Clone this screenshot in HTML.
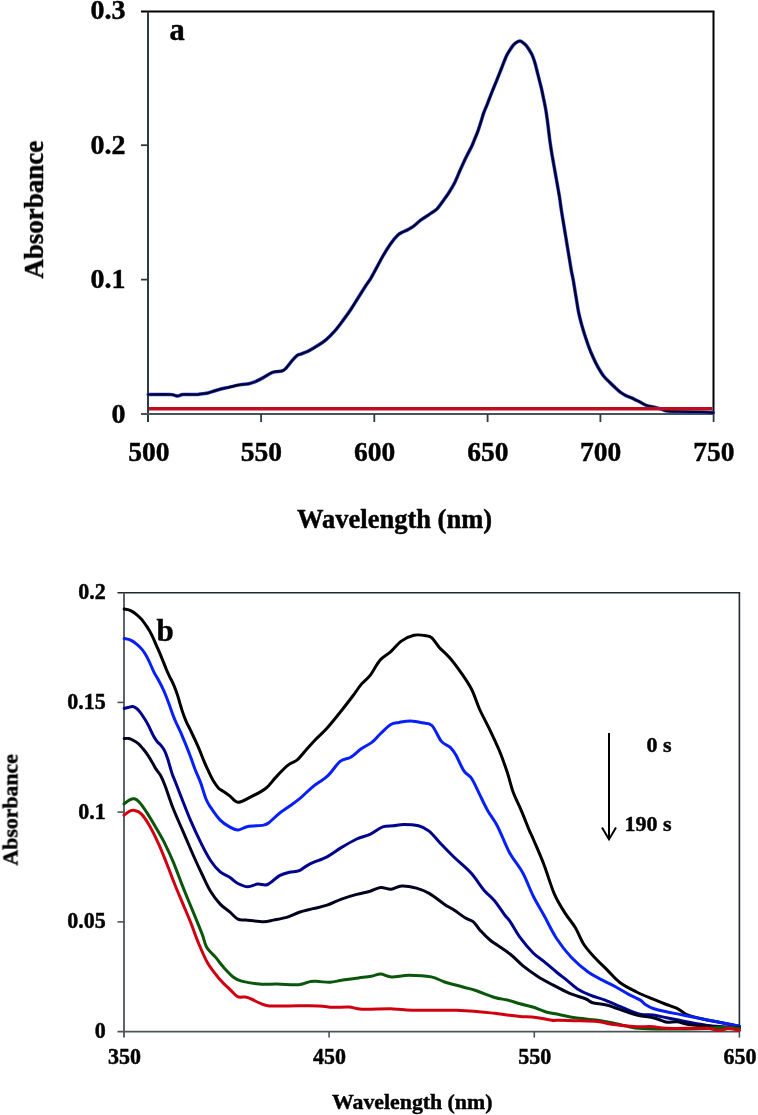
<!DOCTYPE html>
<html><head><meta charset="utf-8"><style>
html,body{margin:0;padding:0;background:#fff;}
svg{display:block;} g.t{opacity:0.995}
</style></head><body>
<svg width="758" height="1115" viewBox="0 0 758 1115">
<rect width="758" height="1115" fill="#fff"/>
<line x1="141" y1="11.5" x2="714.5" y2="11.5" stroke="#000" stroke-width="2"/>
<line x1="713.5" y1="11.5" x2="713.5" y2="414" stroke="#000" stroke-width="2"/>
<line x1="148" y1="11.5" x2="148" y2="422" stroke="#2a3b45" stroke-width="2"/>
<line x1="141" y1="414" x2="713.5" y2="414" stroke="#44545c" stroke-width="1.8"/>
<line x1="141" y1="145.2" x2="148" y2="145.2" stroke="#2a3b45" stroke-width="1.8"/>
<line x1="141" y1="279.6" x2="148" y2="279.6" stroke="#2a3b45" stroke-width="1.8"/>
<line x1="261.1" y1="414" x2="261.1" y2="422" stroke="#2a3b45" stroke-width="1.8"/>
<line x1="374.3" y1="414" x2="374.3" y2="422" stroke="#2a3b45" stroke-width="1.8"/>
<line x1="487.6" y1="414" x2="487.6" y2="422" stroke="#2a3b45" stroke-width="1.8"/>
<line x1="600.4" y1="414" x2="600.4" y2="422" stroke="#2a3b45" stroke-width="1.8"/>
<line x1="713.6" y1="414" x2="713.6" y2="422" stroke="#2a3b45" stroke-width="1.8"/>
<path d="M148.2,394.5 C151.9,394.5 165.4,394.2 170.3,394.5 C175.2,394.8 175.6,396.0 177.7,396.0 C179.8,396.0 180.0,394.8 183.0,394.5 C186.0,394.2 192.9,394.6 195.7,394.5 C198.5,394.4 198.0,394.4 200.0,394.1 C202.0,393.9 205.3,393.6 207.9,393.0 C210.5,392.4 212.7,391.4 215.8,390.5 C218.9,389.6 222.4,388.7 226.4,387.8 C230.4,386.9 235.9,385.6 239.6,384.9 C243.3,384.2 246.2,384.4 248.8,383.8 C251.4,383.2 253.0,382.6 255.4,381.6 C257.8,380.6 260.4,379.2 263.3,377.6 C266.2,376.1 269.5,373.4 272.6,372.3 C275.7,371.2 279.6,371.6 281.8,371.0 C284.0,370.4 284.1,370.2 285.8,368.4 C287.6,366.6 290.3,362.6 292.3,360.4 C294.3,358.2 296.2,356.2 297.6,355.2 C299.0,354.1 299.0,354.7 300.7,354.1 C302.4,353.5 305.2,352.6 307.8,351.4 C310.4,350.1 313.1,348.5 316.1,346.6 C319.1,344.7 322.4,342.8 325.6,340.1 C328.8,337.4 332.1,334.0 335.1,330.6 C338.1,327.2 340.8,323.4 343.4,319.9 C346.0,316.4 348.2,313.4 350.6,309.8 C353.0,306.2 355.3,302.3 357.7,298.5 C360.1,294.7 362.6,290.6 364.8,287.2 C367.0,283.8 369.0,281.3 370.8,278.3 C372.6,275.3 373.7,273.0 375.8,269.2 C377.9,265.4 380.8,259.7 383.2,255.5 C385.6,251.3 388.1,247.3 390.5,243.9 C392.9,240.5 395.6,237.2 397.7,235.2 C399.8,233.2 401.1,232.9 402.8,232.0 C404.5,231.1 406.2,230.6 408.0,229.6 C409.8,228.6 411.5,227.8 413.7,226.2 C415.9,224.6 418.3,221.9 421.0,219.9 C423.7,217.9 427.1,215.9 429.7,214.1 C432.3,212.3 434.6,211.2 436.9,209.0 C439.1,206.8 441.5,203.1 443.2,200.8 C444.9,198.5 445.9,197.1 447.3,195.1 C448.7,193.1 450.0,191.0 451.3,188.7 C452.6,186.4 453.7,184.7 455.3,181.4 C456.9,178.1 459.2,172.3 460.7,168.9 C462.2,165.5 463.0,163.8 464.3,161.0 C465.6,158.2 467.3,155.0 468.6,152.4 C469.9,149.8 471.1,147.6 472.2,145.2 C473.3,142.8 474.1,140.4 475.1,138.0 C476.1,135.6 477.1,133.5 478.0,130.9 C478.9,128.3 479.9,125.3 480.8,122.3 C481.8,119.3 482.7,115.7 483.7,112.9 C484.7,110.2 485.5,108.5 486.6,105.8 C487.7,103.1 489.1,99.4 490.2,96.5 C491.3,93.6 492.3,91.2 493.4,88.5 C494.5,85.8 495.6,83.1 496.7,80.4 C497.8,77.7 498.8,75.0 499.9,72.3 C501.0,69.6 502.0,66.9 503.1,64.2 C504.2,61.5 505.2,58.5 506.3,56.2 C507.4,53.9 508.4,52.4 509.6,50.5 C510.8,48.6 512.3,46.2 513.6,44.8 C514.9,43.3 516.3,42.4 517.5,41.8 C518.7,41.2 519.2,40.6 520.6,41.1 C522.0,41.6 524.2,43.5 525.7,45.0 C527.2,46.5 528.2,48.3 529.3,50.0 C530.4,51.7 531.4,53.3 532.2,55.1 C533.0,56.9 533.6,58.8 534.3,60.8 C534.9,62.8 535.5,64.9 536.1,67.2 C536.7,69.5 537.3,72.0 537.9,74.4 C538.5,76.8 539.1,79.2 539.7,81.6 C540.3,84.0 540.9,86.1 541.5,88.7 C542.1,91.3 542.7,94.4 543.3,97.3 C543.9,100.2 544.6,103.4 545.1,106.0 C545.6,108.6 545.8,109.7 546.3,113.0 C546.8,116.3 547.5,121.2 548.1,126.1 C548.7,131.0 549.4,137.5 550.1,142.3 C550.8,147.2 551.4,151.2 552.1,155.2 C552.8,159.2 553.4,162.8 554.1,166.5 C554.8,170.2 555.4,173.9 556.1,177.7 C556.8,181.4 557.5,185.8 558.1,189.0 C558.7,192.2 558.9,193.3 559.5,197.0 C560.1,200.7 560.8,206.7 561.5,211.1 C562.2,215.5 562.8,219.2 563.5,223.2 C564.2,227.2 564.8,231.3 565.5,235.3 C566.2,239.3 566.8,243.4 567.5,247.4 C568.2,251.4 568.8,255.5 569.5,259.5 C570.2,263.5 570.8,267.9 571.5,271.6 C572.2,275.3 572.8,277.4 573.5,281.5 C574.2,285.6 575.0,291.1 575.9,296.2 C576.8,301.3 577.6,307.5 578.6,312.3 C579.6,317.1 580.7,321.2 581.8,325.2 C582.9,329.1 583.9,332.4 585.1,336.0 C586.3,339.6 587.4,343.2 588.8,346.8 C590.1,350.4 591.7,354.1 593.2,357.5 C594.7,360.9 596.3,364.1 598.0,367.2 C599.7,370.2 601.5,373.3 603.4,375.8 C605.3,378.3 607.6,380.3 609.6,382.3 C611.6,384.3 613.5,386.0 615.3,387.7 C617.1,389.4 618.9,391.1 620.6,392.4 C622.4,393.7 624.0,394.7 625.8,395.6 C627.5,396.5 629.3,396.9 631.1,397.7 C632.9,398.5 634.6,399.4 636.4,400.3 C638.2,401.2 640.0,402.1 641.7,403.0 C643.5,403.9 644.8,404.9 646.9,405.6 C649.0,406.3 652.0,406.7 654.3,407.2 C656.6,407.7 658.8,408.2 660.7,408.8 C662.6,409.4 663.8,410.5 665.9,410.9 C668.0,411.3 670.3,411.3 673.3,411.4 C676.3,411.5 681.1,411.6 683.9,411.7 C686.7,411.8 686.1,411.8 690.0,411.9 C693.9,412.0 703.1,412.1 707.0,412.2 C710.9,412.3 712.2,412.6 713.3,412.7" fill="none" stroke="#2038f0" stroke-width="3.5" stroke-linejoin="round" stroke-linecap="round"/>
<path d="M148.2,394.5 C151.9,394.5 165.4,394.2 170.3,394.5 C175.2,394.8 175.6,396.0 177.7,396.0 C179.8,396.0 180.0,394.8 183.0,394.5 C186.0,394.2 192.9,394.6 195.7,394.5 C198.5,394.4 198.0,394.4 200.0,394.1 C202.0,393.9 205.3,393.6 207.9,393.0 C210.5,392.4 212.7,391.4 215.8,390.5 C218.9,389.6 222.4,388.7 226.4,387.8 C230.4,386.9 235.9,385.6 239.6,384.9 C243.3,384.2 246.2,384.4 248.8,383.8 C251.4,383.2 253.0,382.6 255.4,381.6 C257.8,380.6 260.4,379.2 263.3,377.6 C266.2,376.1 269.5,373.4 272.6,372.3 C275.7,371.2 279.6,371.6 281.8,371.0 C284.0,370.4 284.1,370.2 285.8,368.4 C287.6,366.6 290.3,362.6 292.3,360.4 C294.3,358.2 296.2,356.2 297.6,355.2 C299.0,354.1 299.0,354.7 300.7,354.1 C302.4,353.5 305.2,352.6 307.8,351.4 C310.4,350.1 313.1,348.5 316.1,346.6 C319.1,344.7 322.4,342.8 325.6,340.1 C328.8,337.4 332.1,334.0 335.1,330.6 C338.1,327.2 340.8,323.4 343.4,319.9 C346.0,316.4 348.2,313.4 350.6,309.8 C353.0,306.2 355.3,302.3 357.7,298.5 C360.1,294.7 362.6,290.6 364.8,287.2 C367.0,283.8 369.0,281.3 370.8,278.3 C372.6,275.3 373.7,273.0 375.8,269.2 C377.9,265.4 380.8,259.7 383.2,255.5 C385.6,251.3 388.1,247.3 390.5,243.9 C392.9,240.5 395.6,237.2 397.7,235.2 C399.8,233.2 401.1,232.9 402.8,232.0 C404.5,231.1 406.2,230.6 408.0,229.6 C409.8,228.6 411.5,227.8 413.7,226.2 C415.9,224.6 418.3,221.9 421.0,219.9 C423.7,217.9 427.1,215.9 429.7,214.1 C432.3,212.3 434.6,211.2 436.9,209.0 C439.1,206.8 441.5,203.1 443.2,200.8 C444.9,198.5 445.9,197.1 447.3,195.1 C448.7,193.1 450.0,191.0 451.3,188.7 C452.6,186.4 453.7,184.7 455.3,181.4 C456.9,178.1 459.2,172.3 460.7,168.9 C462.2,165.5 463.0,163.8 464.3,161.0 C465.6,158.2 467.3,155.0 468.6,152.4 C469.9,149.8 471.1,147.6 472.2,145.2 C473.3,142.8 474.1,140.4 475.1,138.0 C476.1,135.6 477.1,133.5 478.0,130.9 C478.9,128.3 479.9,125.3 480.8,122.3 C481.8,119.3 482.7,115.7 483.7,112.9 C484.7,110.2 485.5,108.5 486.6,105.8 C487.7,103.1 489.1,99.4 490.2,96.5 C491.3,93.6 492.3,91.2 493.4,88.5 C494.5,85.8 495.6,83.1 496.7,80.4 C497.8,77.7 498.8,75.0 499.9,72.3 C501.0,69.6 502.0,66.9 503.1,64.2 C504.2,61.5 505.2,58.5 506.3,56.2 C507.4,53.9 508.4,52.4 509.6,50.5 C510.8,48.6 512.3,46.2 513.6,44.8 C514.9,43.3 516.3,42.4 517.5,41.8 C518.7,41.2 519.2,40.6 520.6,41.1 C522.0,41.6 524.2,43.5 525.7,45.0 C527.2,46.5 528.2,48.3 529.3,50.0 C530.4,51.7 531.4,53.3 532.2,55.1 C533.0,56.9 533.6,58.8 534.3,60.8 C534.9,62.8 535.5,64.9 536.1,67.2 C536.7,69.5 537.3,72.0 537.9,74.4 C538.5,76.8 539.1,79.2 539.7,81.6 C540.3,84.0 540.9,86.1 541.5,88.7 C542.1,91.3 542.7,94.4 543.3,97.3 C543.9,100.2 544.6,103.4 545.1,106.0 C545.6,108.6 545.8,109.7 546.3,113.0 C546.8,116.3 547.5,121.2 548.1,126.1 C548.7,131.0 549.4,137.5 550.1,142.3 C550.8,147.2 551.4,151.2 552.1,155.2 C552.8,159.2 553.4,162.8 554.1,166.5 C554.8,170.2 555.4,173.9 556.1,177.7 C556.8,181.4 557.5,185.8 558.1,189.0 C558.7,192.2 558.9,193.3 559.5,197.0 C560.1,200.7 560.8,206.7 561.5,211.1 C562.2,215.5 562.8,219.2 563.5,223.2 C564.2,227.2 564.8,231.3 565.5,235.3 C566.2,239.3 566.8,243.4 567.5,247.4 C568.2,251.4 568.8,255.5 569.5,259.5 C570.2,263.5 570.8,267.9 571.5,271.6 C572.2,275.3 572.8,277.4 573.5,281.5 C574.2,285.6 575.0,291.1 575.9,296.2 C576.8,301.3 577.6,307.5 578.6,312.3 C579.6,317.1 580.7,321.2 581.8,325.2 C582.9,329.1 583.9,332.4 585.1,336.0 C586.3,339.6 587.4,343.2 588.8,346.8 C590.1,350.4 591.7,354.1 593.2,357.5 C594.7,360.9 596.3,364.1 598.0,367.2 C599.7,370.2 601.5,373.3 603.4,375.8 C605.3,378.3 607.6,380.3 609.6,382.3 C611.6,384.3 613.5,386.0 615.3,387.7 C617.1,389.4 618.9,391.1 620.6,392.4 C622.4,393.7 624.0,394.7 625.8,395.6 C627.5,396.5 629.3,396.9 631.1,397.7 C632.9,398.5 634.6,399.4 636.4,400.3 C638.2,401.2 640.0,402.1 641.7,403.0 C643.5,403.9 644.8,404.9 646.9,405.6 C649.0,406.3 652.0,406.7 654.3,407.2 C656.6,407.7 658.8,408.2 660.7,408.8 C662.6,409.4 663.8,410.5 665.9,410.9 C668.0,411.3 670.3,411.3 673.3,411.4 C676.3,411.5 681.1,411.6 683.9,411.7 C686.7,411.8 686.1,411.8 690.0,411.9 C693.9,412.0 703.1,412.1 707.0,412.2 C710.9,412.3 712.2,412.6 713.3,412.7" fill="none" stroke="#000010" stroke-width="2.1" stroke-linejoin="round" stroke-linecap="round"/>
<line x1="149" y1="408.8" x2="712.5" y2="408.8" stroke="#c00c20" stroke-width="3.4"/>
<g class="t" style="font-family:'Liberation Serif',serif;font-weight:bold" fill="#000" stroke="#000" stroke-width="0.45">
<text x="125.5" y="19.4" font-size="28.0" text-anchor="end">0.3</text>
<text x="125.5" y="154.4" font-size="28.0" text-anchor="end">0.2</text>
<text x="125.5" y="287.7" font-size="28.0" text-anchor="end">0.1</text>
<text x="125.5" y="423.2" font-size="28.0" text-anchor="end">0</text>
<text x="148.8" y="461.0" font-size="27.5" text-anchor="middle">500</text>
<text x="261.4" y="461.0" font-size="27.5" text-anchor="middle">550</text>
<text x="374.6" y="461.0" font-size="27.5" text-anchor="middle">600</text>
<text x="487.9" y="461.0" font-size="27.5" text-anchor="middle">650</text>
<text x="600.7" y="461.0" font-size="27.5" text-anchor="middle">700</text>
<text x="713.9" y="461.0" font-size="27.5" text-anchor="middle">750</text>
<text x="394.5" y="527.6" font-size="26.5" text-anchor="middle">Wavelength (nm)</text>
<text transform="translate(43,209.7) rotate(-90)" font-size="27" text-anchor="middle">Absorbance</text>
<text x="169.5" y="40.2" font-size="30.5" text-anchor="start">a</text>
</g>
<line x1="117.5" y1="592.7" x2="740.1999999999999" y2="592.7" stroke="#1e2a2c" stroke-width="1.6"/>
<line x1="739.4" y1="592.7" x2="739.4" y2="1031.6" stroke="#1e2a2c" stroke-width="1.6"/>
<line x1="124" y1="592.7" x2="124" y2="1037.6" stroke="#4a5456" stroke-width="1.8"/>
<line x1="117.5" y1="1031.6" x2="739.4" y2="1031.6" stroke="#4a5456" stroke-width="1.8"/>
<line x1="117.5" y1="702.4" x2="124" y2="702.4" stroke="#4a5456" stroke-width="1.6"/>
<line x1="117.5" y1="812.1" x2="124" y2="812.1" stroke="#4a5456" stroke-width="1.6"/>
<line x1="117.5" y1="921.9" x2="124" y2="921.9" stroke="#4a5456" stroke-width="1.6"/>
<line x1="329.1" y1="1031.6" x2="329.1" y2="1037.6" stroke="#4a5456" stroke-width="1.6"/>
<line x1="534.3" y1="1031.6" x2="534.3" y2="1037.6" stroke="#4a5456" stroke-width="1.6"/>
<line x1="739.4" y1="1031.6" x2="739.4" y2="1037.6" stroke="#4a5456" stroke-width="1.6"/>
<path d="M124.2,609.0 C125.3,609.3 128.5,609.6 130.6,610.6 C132.7,611.6 135.0,613.2 136.9,614.8 C138.8,616.4 140.4,618.0 142.2,620.1 C143.9,622.2 145.8,625.0 147.4,627.4 C149.0,629.8 150.3,632.0 151.7,634.8 C153.1,637.6 154.5,641.1 155.9,644.3 C157.3,647.5 158.3,649.5 160.1,653.8 C161.9,658.1 165.0,666.2 166.6,670.0 C168.2,673.8 168.5,674.4 169.6,676.6 C170.7,678.8 171.9,681.0 172.9,683.2 C173.9,685.4 174.8,687.6 175.6,689.8 C176.4,692.0 177.2,694.2 177.9,696.4 C178.6,698.6 179.2,700.8 179.8,703.0 C180.5,705.2 181.1,707.4 181.8,709.6 C182.5,711.8 183.3,714.0 184.1,716.2 C184.9,718.4 185.8,720.6 186.8,722.8 C187.8,725.0 188.7,726.4 190.1,729.4 C191.5,732.4 193.8,737.2 195.4,740.7 C197.0,744.2 198.2,746.9 199.6,750.2 C201.0,753.5 202.4,757.4 203.8,760.7 C205.2,764.0 206.4,766.9 208.0,770.2 C209.6,773.6 211.5,777.8 213.3,780.8 C215.1,783.8 216.8,786.4 218.6,788.2 C220.4,790.0 222.0,790.5 223.9,791.8 C225.8,793.1 227.7,794.4 230.0,796.1 C232.3,797.9 234.6,802.1 237.9,802.3 C241.2,802.5 245.2,799.7 249.8,797.4 C254.4,795.1 261.3,791.8 265.6,788.5 C269.9,785.2 271.9,781.4 275.5,777.6 C279.1,773.8 283.8,768.7 287.4,765.7 C291.0,762.7 294.3,762.3 297.3,759.8 C300.3,757.3 302.2,754.2 305.2,750.9 C308.2,747.6 311.4,743.9 315.1,740.0 C318.8,736.1 322.9,732.8 327.4,727.7 C331.9,722.7 338.0,715.0 342.2,709.7 C346.4,704.4 349.6,700.2 352.8,696.0 C356.0,691.8 358.4,687.8 361.2,684.4 C364.0,681.0 366.5,679.9 369.7,675.9 C372.9,671.9 376.7,664.1 380.2,660.1 C383.7,656.1 387.3,654.9 390.8,651.7 C394.3,648.5 397.4,643.9 401.3,641.1 C405.2,638.4 409.8,636.1 414.0,635.2 C418.2,634.3 423.6,635.3 426.6,635.8 C429.6,636.2 429.8,636.0 431.9,637.9 C434.0,639.8 436.3,644.0 439.3,647.4 C442.3,650.8 446.1,653.6 449.9,658.0 C453.7,662.4 458.2,668.6 461.9,673.9 C465.5,679.2 468.8,683.8 471.8,689.7 C474.8,695.6 476.7,702.9 479.7,709.5 C482.7,716.1 486.3,722.4 489.6,729.3 C492.9,736.2 496.5,743.8 499.5,751.0 C502.5,758.2 505.1,765.9 507.4,772.8 C509.7,779.7 511.0,786.3 513.3,792.6 C515.6,798.9 518.6,804.1 521.2,810.4 C523.9,816.7 527.2,825.4 529.2,830.2 C531.2,835.0 530.8,833.3 533.2,839.0 C535.6,844.7 540.3,855.1 543.8,864.3 C547.3,873.4 550.8,885.8 554.3,893.9 C557.8,902.0 561.4,907.3 564.9,912.9 C568.4,918.5 572.2,922.4 575.4,927.7 C578.6,933.0 580.7,939.6 583.9,944.5 C587.1,949.4 590.5,953.0 594.4,957.2 C598.3,961.4 602.9,965.7 607.1,969.9 C611.3,974.1 614.9,978.8 619.8,982.5 C624.7,986.2 631.0,989.2 636.6,992.0 C642.2,994.8 648.2,997.1 653.2,999.2 C658.2,1001.3 662.2,1002.9 666.4,1004.5 C670.6,1006.1 675.2,1007.6 678.3,1009.1 C681.4,1010.6 682.5,1012.5 684.9,1013.7 C687.3,1015.0 689.3,1015.6 692.8,1016.6 C696.3,1017.6 701.6,1018.8 706.0,1019.7 C710.4,1020.7 713.6,1021.2 719.2,1022.3 C724.8,1023.4 736.0,1025.5 739.4,1026.2" fill="none" stroke="#000000" stroke-width="3" stroke-linejoin="round" stroke-linecap="round"/>
<path d="M124.2,638.5 C125.3,638.8 128.5,639.1 130.6,640.1 C132.7,641.1 135.0,642.7 136.9,644.3 C138.8,645.9 140.6,647.7 142.2,649.6 C143.8,651.5 145.2,653.8 146.4,655.9 C147.6,658.0 148.4,659.6 149.6,662.3 C150.8,664.9 152.2,668.6 153.8,671.8 C155.4,675.0 157.5,678.3 159.1,681.3 C160.7,684.3 162.1,687.1 163.3,689.7 C164.5,692.3 165.2,694.0 166.4,697.0 C167.6,700.0 169.2,704.6 170.3,707.6 C171.4,710.6 172.1,712.7 172.9,714.9 C173.8,717.1 174.1,718.1 175.4,721.0 C176.7,723.9 178.8,728.2 180.6,732.2 C182.3,736.2 184.1,740.5 185.9,744.9 C187.7,749.3 189.6,754.4 191.2,758.6 C192.8,762.8 193.8,766.2 195.4,770.2 C197.0,774.2 198.9,778.1 200.7,782.9 C202.4,787.6 204.3,794.7 205.9,798.7 C207.5,802.8 208.1,803.6 210.5,807.2 C212.9,810.8 216.9,816.8 220.2,820.1 C223.4,823.4 227.1,825.5 230.0,827.1 C232.9,828.8 234.9,830.1 237.9,830.0 C240.9,829.9 243.5,827.3 247.8,826.5 C252.1,825.7 260.0,825.8 263.6,825.1 C267.2,824.4 267.0,824.1 269.6,822.1 C272.2,820.1 276.2,815.8 279.5,813.2 C282.8,810.6 286.0,808.8 289.4,806.3 C292.8,803.8 296.1,801.6 300.0,798.4 C303.9,795.1 308.1,790.5 312.7,786.8 C317.3,783.1 322.8,780.4 327.4,776.2 C332.0,772.0 336.2,764.6 340.1,761.4 C344.0,758.2 347.2,759.3 350.7,757.2 C354.2,755.1 357.7,751.3 361.2,748.8 C364.7,746.3 368.6,744.9 371.8,742.4 C375.0,739.9 377.0,737.0 380.2,734.0 C383.4,731.0 387.6,726.4 390.8,724.5 C394.0,722.6 395.9,723.0 399.2,722.4 C402.5,721.8 406.9,720.8 410.8,720.9 C414.7,721.0 418.9,722.0 422.4,722.8 C425.9,723.6 428.7,722.4 431.9,725.5 C435.1,728.6 438.4,737.8 441.4,741.4 C444.4,745.0 447.6,744.8 450.0,747.1 C452.4,749.4 453.6,751.0 455.9,755.0 C458.2,759.0 461.2,766.8 463.9,770.8 C466.5,774.8 469.2,774.7 471.8,778.7 C474.4,782.7 477.1,789.3 479.7,794.6 C482.3,799.9 484.6,805.1 487.6,810.4 C490.6,815.7 493.9,819.2 497.5,826.2 C501.1,833.2 505.1,844.4 509.3,852.2 C513.5,860.0 518.7,865.5 522.7,872.8 C526.7,880.1 529.7,889.0 533.2,896.0 C536.7,903.0 539.9,908.0 543.8,915.0 C547.7,922.0 551.8,931.2 556.4,938.2 C561.0,945.2 565.9,951.6 571.2,957.2 C576.5,962.8 582.8,968.1 588.1,972.0 C593.4,975.9 598.3,977.9 602.9,980.4 C607.5,982.9 611.3,984.5 615.5,986.8 C619.7,989.1 624.1,991.9 628.2,994.1 C632.3,996.3 637.1,998.2 640.0,999.9 C642.9,1001.6 643.1,1003.1 645.3,1004.5 C647.5,1005.9 649.7,1007.3 653.2,1008.5 C656.7,1009.7 662.0,1010.8 666.4,1011.8 C670.8,1012.8 675.2,1013.5 679.6,1014.4 C684.0,1015.3 688.4,1016.1 692.8,1017.0 C697.2,1017.9 701.6,1018.8 706.0,1019.7 C710.4,1020.6 713.6,1021.2 719.2,1022.3 C724.8,1023.4 736.0,1025.5 739.4,1026.2" fill="none" stroke="#0820f8" stroke-width="3" stroke-linejoin="round" stroke-linecap="round"/>
<path d="M124.2,708.5 C124.8,708.3 126.6,707.8 128.0,707.5 C129.4,707.2 131.2,706.3 132.7,706.5 C134.1,706.7 135.4,707.5 136.7,708.5 C138.0,709.5 139.3,711.1 140.6,712.8 C141.9,714.5 143.4,716.9 144.6,718.8 C145.8,720.7 146.8,722.3 147.8,724.3 C148.9,726.3 149.9,728.5 150.9,730.6 C151.9,732.7 153.0,735.1 154.1,737.0 C155.2,738.9 156.1,740.2 157.3,741.7 C158.5,743.2 160.0,744.2 161.2,745.7 C162.4,747.2 163.3,748.3 164.4,750.4 C165.5,752.5 166.6,755.6 167.5,758.3 C168.4,760.9 169.1,763.6 169.9,766.3 C170.7,768.9 171.4,771.6 172.3,774.2 C173.2,776.8 173.8,777.9 175.3,781.8 C176.8,785.7 178.8,790.9 181.4,797.5 C184.0,804.1 187.9,814.2 191.1,821.7 C194.3,829.2 197.6,836.2 200.8,842.7 C204.0,849.2 207.3,855.6 210.5,860.5 C213.7,865.4 216.9,869.0 220.2,871.8 C223.4,874.6 227.1,875.5 230.0,877.5 C232.9,879.5 234.9,882.0 237.9,883.5 C240.9,885.0 244.5,886.7 247.8,886.8 C251.1,886.9 254.4,884.5 257.7,884.1 C261.0,883.7 264.0,885.9 267.6,884.5 C271.2,883.1 275.9,877.6 279.5,875.6 C283.1,873.6 286.1,873.0 289.4,872.2 C292.7,871.4 296.0,871.9 299.3,870.6 C302.6,869.3 304.6,866.6 309.2,864.3 C313.8,862.0 321.7,859.5 327.0,856.8 C332.3,854.1 335.9,850.9 340.8,847.9 C345.8,844.9 351.8,841.3 356.7,839.0 C361.6,836.7 365.7,836.3 370.0,834.3 C374.3,832.3 378.8,828.3 382.7,826.9 C386.6,825.5 389.7,826.2 393.2,825.8 C396.7,825.4 399.6,824.4 403.8,824.4 C408.0,824.4 414.3,824.7 418.5,825.8 C422.7,826.9 425.2,827.9 429.1,831.1 C433.0,834.3 437.6,840.4 441.8,844.8 C446.0,849.2 449.5,852.8 454.4,857.5 C459.3,862.2 466.4,867.8 471.3,873.3 C476.2,878.8 480.1,885.6 484.0,890.2 C487.9,894.8 491.0,896.6 494.5,900.8 C498.0,905.0 502.5,912.1 505.1,915.5 C507.7,918.9 507.4,917.5 510.0,921.3 C512.6,925.1 516.7,932.9 520.6,938.2 C524.5,943.5 529.3,949.1 533.2,953.0 C537.1,956.9 539.9,958.2 543.8,961.4 C547.7,964.6 552.5,968.8 556.4,972.0 C560.3,975.2 563.5,977.6 567.0,980.4 C570.5,983.2 573.6,986.4 577.5,988.9 C581.4,991.4 585.6,993.3 590.2,995.2 C594.8,997.1 599.7,998.1 605.1,1000.2 C610.5,1002.3 616.9,1005.4 622.7,1007.7 C628.5,1010.0 634.9,1013.0 640.0,1014.2 C645.1,1015.4 648.8,1014.5 653.2,1015.1 C657.6,1015.7 662.0,1016.8 666.4,1017.7 C670.8,1018.6 675.2,1019.4 679.6,1020.3 C684.0,1021.2 688.4,1022.2 692.8,1023.0 C697.2,1023.8 701.6,1024.6 706.0,1025.2 C710.4,1025.8 713.6,1026.1 719.2,1026.5 C724.8,1026.9 736.0,1027.4 739.4,1027.6" fill="none" stroke="#00048c" stroke-width="3" stroke-linejoin="round" stroke-linecap="round"/>
<path d="M124.2,738.5 C125.0,738.5 127.3,738.2 128.8,738.5 C130.4,738.8 131.9,739.6 133.5,740.5 C135.1,741.4 136.7,742.3 138.3,743.7 C139.9,745.1 141.4,746.9 143.0,748.8 C144.6,750.7 146.4,753.1 147.8,755.2 C149.2,757.3 150.4,759.3 151.7,761.5 C153.0,763.7 154.2,766.3 155.7,768.6 C157.2,770.9 159.1,772.8 160.6,775.5 C162.1,778.2 162.7,779.5 164.8,785.0 C166.9,790.5 170.3,801.1 173.3,808.8 C176.3,816.5 179.8,823.9 183.0,831.4 C186.2,838.9 189.5,846.7 192.7,854.0 C195.9,861.3 199.4,868.8 202.4,875.0 C205.4,881.2 207.5,886.4 210.5,891.2 C213.5,896.1 216.9,900.6 220.2,904.1 C223.4,907.6 227.1,909.7 230.0,912.2 C232.9,914.7 235.3,917.8 237.9,919.1 C240.5,920.4 241.5,919.7 245.8,920.1 C250.1,920.5 259.0,921.7 263.6,921.7 C268.2,921.7 269.5,920.9 273.5,920.1 C277.5,919.3 283.1,918.4 287.4,917.1 C291.7,915.8 295.0,913.6 299.3,912.2 C303.6,910.8 308.5,909.8 313.1,908.6 C317.7,907.4 322.4,906.8 327.0,905.2 C331.6,903.7 335.9,901.1 340.8,899.3 C345.8,897.5 351.8,895.7 356.7,894.4 C361.6,893.1 366.0,892.4 370.0,891.3 C374.0,890.1 377.1,887.9 380.6,887.5 C384.1,887.1 387.6,889.5 391.1,889.2 C394.6,889.0 397.5,886.2 401.7,886.0 C405.9,885.8 411.8,886.9 416.4,888.1 C421.0,889.3 424.5,890.8 429.1,893.4 C433.7,896.0 439.7,901.1 443.9,903.9 C448.1,906.7 450.9,908.0 454.4,910.3 C457.9,912.6 461.8,915.8 465.0,917.7 C468.2,919.6 470.9,919.9 473.4,921.9 C475.9,923.9 477.0,926.9 479.8,929.9 C482.6,932.9 485.0,936.0 490.0,940.0 C495.0,944.0 504.6,949.7 510.0,954.0 C515.5,958.3 518.1,961.9 522.7,965.6 C527.3,969.3 532.5,973.0 537.4,976.2 C542.3,979.4 546.9,981.8 552.2,984.6 C557.5,987.4 563.5,990.7 569.1,993.1 C574.7,995.5 582.1,997.4 586.0,999.0 C589.9,1000.6 589.0,1001.7 592.6,1002.7 C596.2,1003.7 602.2,1003.8 607.6,1005.2 C613.0,1006.7 619.8,1009.6 625.2,1011.4 C630.6,1013.1 635.3,1014.7 640.0,1015.7 C644.7,1016.8 649.7,1016.9 653.2,1017.7 C656.7,1018.5 658.7,1019.5 661.1,1020.3 C663.5,1021.1 665.1,1022.1 667.7,1022.3 C670.4,1022.5 673.9,1021.4 677.0,1021.7 C680.1,1022.0 682.5,1023.4 686.2,1024.0 C689.9,1024.7 693.9,1025.1 699.4,1025.6 C704.9,1026.1 712.5,1026.5 719.2,1026.9 C725.9,1027.4 736.0,1028.1 739.4,1028.3" fill="none" stroke="#02021e" stroke-width="3" stroke-linejoin="round" stroke-linecap="round"/>
<path d="M124.0,803.9 C125.0,803.2 127.9,800.8 129.7,799.9 C131.4,799.0 132.9,798.4 134.5,798.8 C136.1,799.2 137.2,799.8 139.4,802.3 C141.6,804.8 144.5,809.0 147.5,813.6 C150.5,818.2 154.2,824.7 157.2,829.8 C160.1,834.9 162.5,838.9 165.2,844.3 C167.9,849.7 170.6,855.6 173.3,862.1 C176.0,868.6 179.0,876.9 181.4,883.1 C183.8,889.3 185.5,893.3 187.9,899.2 C190.3,905.1 193.5,912.7 195.9,918.6 C198.3,924.5 200.6,930.0 202.4,934.8 C204.2,939.6 204.6,943.7 206.8,947.5 C209.0,951.3 212.9,954.1 215.7,957.4 C218.5,960.7 220.6,964.0 223.6,967.3 C226.6,970.6 230.5,974.9 233.5,977.2 C236.5,979.5 237.2,980.0 241.5,981.1 C245.8,982.2 253.4,983.6 259.3,984.1 C265.2,984.6 270.5,984.0 277.1,984.1 C283.7,984.2 293.2,985.1 298.8,984.7 C304.4,984.3 307.4,982.0 310.7,981.5 C314.0,981.0 315.4,981.4 318.6,981.5 C321.8,981.6 326.0,982.5 330.0,982.3 C334.0,982.1 337.9,980.8 342.7,980.1 C347.4,979.4 353.8,978.5 358.5,977.9 C363.2,977.3 367.5,976.9 371.2,976.3 C374.9,975.7 377.3,974.0 380.7,974.1 C384.1,974.2 386.9,976.7 391.7,976.9 C396.4,977.1 402.6,975.3 409.2,975.3 C415.8,975.3 425.5,975.8 431.3,976.9 C437.1,978.0 438.7,980.0 444.0,981.7 C449.3,983.4 457.7,985.5 463.0,987.0 C468.3,988.5 470.4,988.8 475.7,990.5 C481.0,992.2 489.4,995.9 494.7,997.5 C500.0,999.1 503.1,999.0 507.3,1000.0 C511.5,1001.0 515.8,1002.6 520.0,1003.8 C524.2,1005.0 528.5,1005.7 532.7,1007.0 C536.9,1008.3 540.8,1010.4 545.3,1011.7 C549.8,1013.0 555.0,1013.7 560.0,1014.7 C565.0,1015.7 568.7,1016.8 575.0,1017.7 C581.3,1018.6 590.5,1019.2 597.6,1020.2 C604.7,1021.2 611.3,1022.7 617.6,1024.0 C623.9,1025.3 628.1,1027.2 635.2,1028.0 C642.3,1028.8 651.9,1028.8 660.3,1029.0 C668.6,1029.2 677.8,1029.1 685.3,1029.0 C692.8,1028.9 699.8,1028.7 705.0,1028.5 C710.2,1028.3 712.0,1027.8 716.5,1027.6 C721.0,1027.4 728.5,1027.5 732.3,1027.6 C736.1,1027.7 738.2,1028.2 739.4,1028.3" fill="none" stroke="#0a560a" stroke-width="3" stroke-linejoin="round" stroke-linecap="round"/>
<path d="M124.0,815.2 C125.0,814.5 127.9,812.0 129.7,811.2 C131.4,810.4 132.6,810.0 134.5,810.4 C136.4,810.8 138.6,811.2 141.0,813.6 C143.4,816.0 146.1,819.8 149.1,824.9 C152.1,830.0 155.9,837.8 158.8,844.3 C161.8,850.8 164.1,857.0 166.8,863.7 C169.5,870.4 172.2,878.0 174.9,884.7 C177.6,891.4 180.3,897.6 183.0,904.1 C185.7,910.6 188.6,917.2 191.1,923.5 C193.6,929.8 195.1,935.0 197.9,941.6 C200.7,948.2 204.2,957.0 207.8,963.3 C211.4,969.6 216.1,974.9 219.7,979.2 C223.3,983.5 226.6,986.2 229.6,989.1 C232.6,992.0 234.9,995.3 237.5,996.6 C240.1,997.9 243.1,996.6 245.4,997.0 C247.7,997.4 249.0,998.0 251.3,999.0 C253.6,1000.0 256.3,1001.8 259.3,1002.9 C262.3,1004.0 264.2,1005.4 269.2,1005.9 C274.1,1006.4 280.8,1005.9 289.0,1005.9 C297.2,1005.9 311.4,1005.7 318.6,1005.9 C325.9,1006.1 327.4,1007.1 332.5,1007.3 C337.6,1007.5 344.1,1006.7 349.0,1007.0 C353.9,1007.3 354.3,1008.9 361.7,1009.2 C369.1,1009.5 384.9,1008.7 393.3,1008.9 C401.7,1009.1 401.7,1010.0 412.3,1010.2 C422.9,1010.4 445.6,1010.0 456.7,1010.2 C467.8,1010.5 472.5,1011.2 478.8,1011.7 C485.1,1012.2 489.9,1012.8 494.7,1013.3 C499.4,1013.8 503.1,1014.4 507.3,1014.9 C511.5,1015.4 515.2,1016.1 520.0,1016.5 C524.8,1016.9 530.5,1016.8 535.8,1017.4 C541.1,1018.0 547.7,1019.8 551.7,1020.3 C555.7,1020.8 556.1,1020.1 560.0,1020.2 C563.9,1020.3 568.7,1020.5 575.0,1020.7 C581.3,1020.9 591.8,1021.0 597.6,1021.5 C603.5,1022.0 604.7,1023.2 610.1,1024.0 C615.5,1024.8 625.2,1025.8 630.2,1026.3 C635.2,1026.8 636.2,1026.6 640.0,1026.7 C643.8,1026.8 648.8,1026.4 653.2,1026.7 C657.6,1027.0 659.8,1028.0 666.4,1028.3 C673.0,1028.6 685.8,1028.3 692.8,1028.3 C699.8,1028.3 704.2,1027.9 708.6,1028.3 C713.0,1028.7 715.9,1030.6 719.2,1030.6 C722.5,1030.6 725.0,1028.5 728.4,1028.5 C731.8,1028.5 737.6,1030.1 739.4,1030.4" fill="none" stroke="#d00010" stroke-width="3" stroke-linejoin="round" stroke-linecap="round"/>
<line x1="609" y1="733" x2="609" y2="839" stroke="#000" stroke-width="2"/>
<polyline points="602,827.5 609,839.4 616,827.5" fill="none" stroke="#000" stroke-width="2"/>
<g class="t" style="font-family:'Liberation Serif',serif;font-weight:bold" fill="#000" stroke="#000" stroke-width="0.45">
<text x="105.8" y="599.3" font-size="22.0" text-anchor="end" transform="translate(0,599.3) scale(1,1.06) translate(0,-599.3)">0.2</text>
<text x="105.8" y="709.0" font-size="22.0" text-anchor="end" transform="translate(0,709.0) scale(1,1.06) translate(0,-709.0)">0.15</text>
<text x="105.8" y="818.8" font-size="22.0" text-anchor="end" transform="translate(0,818.8) scale(1,1.06) translate(0,-818.8)">0.1</text>
<text x="105.8" y="928.5" font-size="22.0" text-anchor="end" transform="translate(0,928.5) scale(1,1.06) translate(0,-928.5)">0.05</text>
<text x="105.8" y="1038.2" font-size="22.0" text-anchor="end" transform="translate(0,1038.2) scale(1,1.06) translate(0,-1038.2)">0</text>
<text x="124.5" y="1063.8" font-size="22.0" text-anchor="middle" transform="translate(0,1063.8) scale(1,1.06) translate(0,-1063.8)">350</text>
<text x="329.6" y="1063.8" font-size="22.0" text-anchor="middle" transform="translate(0,1063.8) scale(1,1.06) translate(0,-1063.8)">450</text>
<text x="534.8" y="1063.8" font-size="22.0" text-anchor="middle" transform="translate(0,1063.8) scale(1,1.06) translate(0,-1063.8)">550</text>
<text x="739.9" y="1063.8" font-size="22.0" text-anchor="middle" transform="translate(0,1063.8) scale(1,1.06) translate(0,-1063.8)">650</text>
<text x="412.2" y="1108.8" font-size="21.8" text-anchor="middle">Wavelength (nm)</text>
<text transform="translate(17.5,809.8) rotate(-90)" font-size="21.8" text-anchor="middle">Absorbance</text>
<text x="156.5" y="641.0" font-size="31.0" text-anchor="start">b</text>
<text x="671.5" y="752.1" font-size="22.0" text-anchor="end">0 s</text>
<text x="671.5" y="830.6" font-size="22.0" text-anchor="end">190 s</text>
</g>
</svg>
</body></html>
